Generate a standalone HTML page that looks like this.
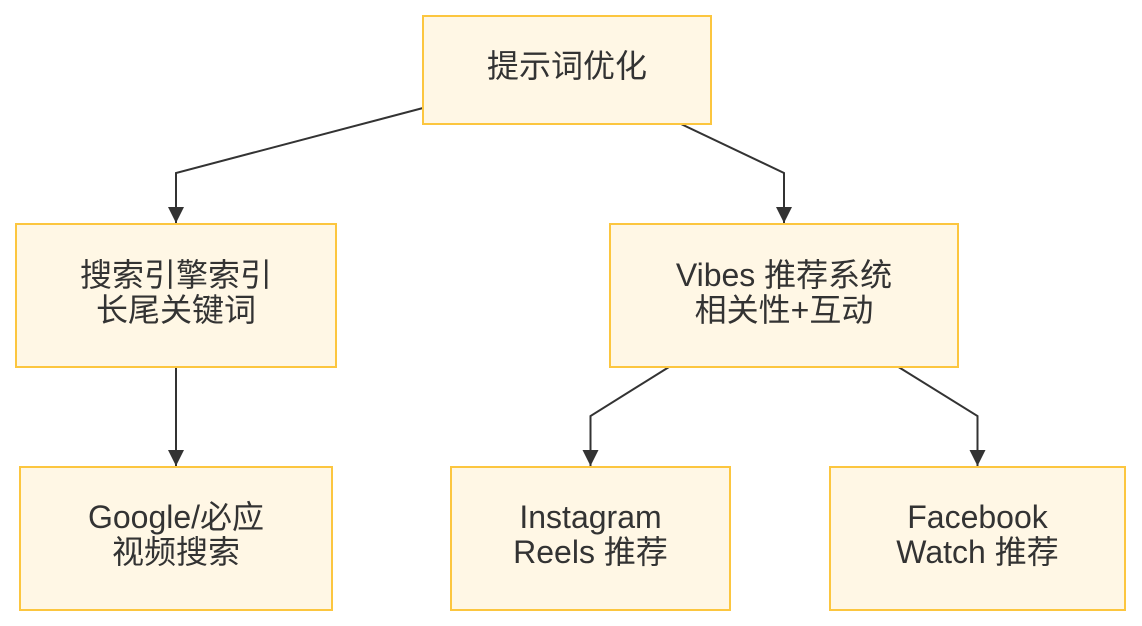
<!DOCTYPE html>
<html>
<head>
<meta charset="utf-8">
<style>
  html, body { margin: 0; padding: 0; background: #ffffff; }
  body { width: 1142px; height: 626px; overflow: hidden; }
  svg { display: block; }
  text {
    font-family: "Liberation Sans", "Noto Sans CJK SC", sans-serif;
    font-size: 32px;
    fill: #333333;
    text-anchor: middle;
  }
</style>
</head>
<body>
<svg width="1142" height="626" viewBox="0 0 1142 626" xmlns="http://www.w3.org/2000/svg">
  <defs>
    <marker id="arr" viewBox="0 0 16 16" refX="16" refY="8" markerWidth="16" markerHeight="16" markerUnits="userSpaceOnUse" orient="auto">
      <path d="M0,0 L16,8 L0,16 Z" fill="#333333"/>
    </marker>
  </defs>

  <!-- connectors -->
  <g fill="none" stroke="#333333" stroke-width="2">
    <path d="M423,108 L176,173 L176,223" marker-end="url(#arr)"/>
    <path d="M681,124 L784,173 L784,223" marker-end="url(#arr)"/>
    <path d="M176,367 L176,466" marker-end="url(#arr)"/>
    <path d="M669,367 L590.5,416 L590.5,466" marker-end="url(#arr)"/>
    <path d="M898.5,367 L977.5,416 L977.5,466" marker-end="url(#arr)"/>
  </g>

  <!-- nodes -->
  <g fill="#fff7e5" stroke="#fcc63f" stroke-width="2">
    <rect x="423" y="16" width="288" height="108"/>
    <rect x="16" y="224" width="320" height="143"/>
    <rect x="610" y="224" width="348" height="143"/>
    <rect x="20" y="467" width="312" height="143"/>
    <rect x="451" y="467" width="279" height="143"/>
    <rect x="830" y="467" width="295" height="143"/>
  </g>

  <!-- labels -->
  <text x="567" y="77">提示词优化</text>

  <text x="176" y="286">搜索引擎索引</text>
  <text x="176" y="321">长尾关键词</text>

  <text x="784" y="286">Vibes 推荐系统</text>
  <text x="784" y="321">相关性+互动</text>

  <text x="176" y="528">Google/必应</text>
  <text x="176" y="563">视频搜索</text>

  <text x="590.5" y="528">Instagram</text>
  <text x="590.5" y="563">Reels 推荐</text>

  <text x="977.5" y="528">Facebook</text>
  <text x="977.5" y="563">Watch 推荐</text>
</svg>
</body>
</html>
